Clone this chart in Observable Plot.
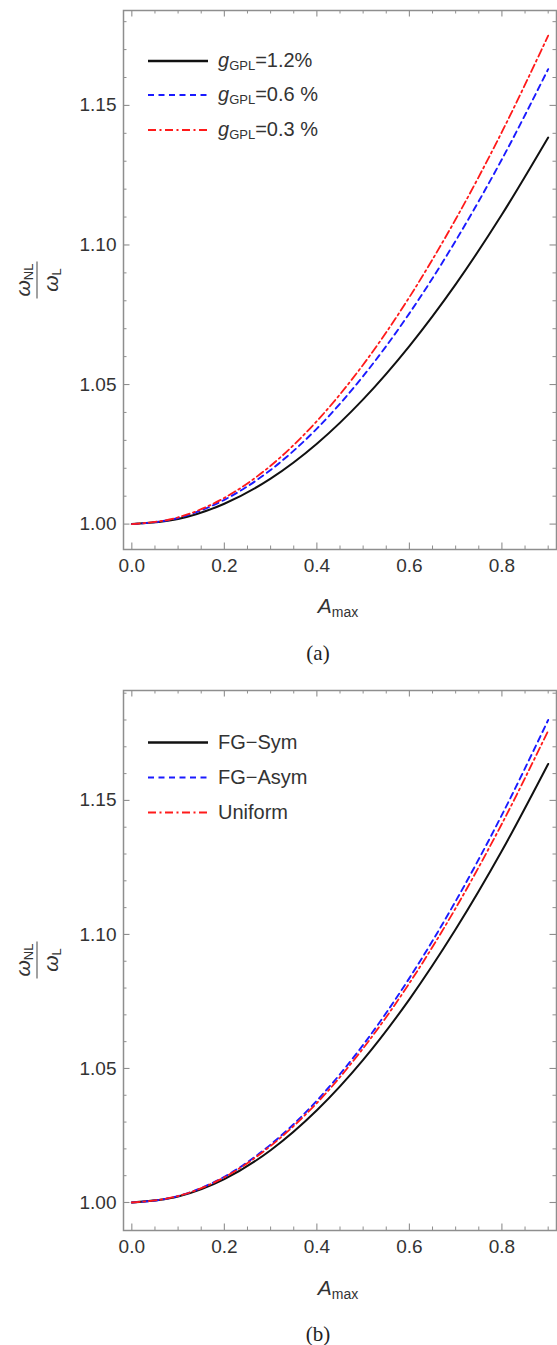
<!DOCTYPE html>
<html>
<head>
<meta charset="utf-8">
<script src="https://cdn.jsdelivr.net/npm/d3@7"></script>
<script src="https://cdn.jsdelivr.net/npm/@observablehq/plot@0.6"></script>
<style>
  html, body { margin: 0; padding: 0; background: #fff; }
  #page { position: relative; width: 557px; height: 1345px; overflow: hidden; font-family: "Liberation Sans", Arial, sans-serif; color: #333; }
  .leg { position: absolute; display: flex; align-items: center; font-size: 20px; white-space: nowrap; transform: translateY(-50%); }
  .leg svg { margin-right: 10px; }
  .leg sub { font-size: 13px; vertical-align: -3px; }
  .ylab { position: absolute; transform: translate(-50%, -50%) rotate(-90deg); }
  .frac { display: inline-flex; flex-direction: column; align-items: center; font-size: 21px; line-height: 1.0; }
  .frac .num { border-bottom: 1.7px solid #444; padding: 0 2px 2px 2px; }
  .frac .den { padding-top: 2px; }
  .frac sub { font-size: 13px; vertical-align: -3px; }
  .xlab { position: absolute; transform: translate(-50%, -50%); font-size: 21px; white-space: nowrap; }
  .xlab sub { font-size: 14px; vertical-align: -4px; }
  .cap { position: absolute; transform: translate(-50%, -50%); font-family: "Liberation Serif", "Times New Roman", serif; font-size: 21px; color: #222; }
</style>
</head>
<body>
<div id="page"></div>
<script>
// ---------- data ----------
const A = [0, 0.1, 0.2, 0.3, 0.4, 0.5, 0.6, 0.7, 0.8, 0.9];
// panel (a)
const gpl12 = [1.0000, 1.0018, 1.0073, 1.0163, 1.0288, 1.0447, 1.0638, 1.0859, 1.1109, 1.1385];
const gpl06 = [1.0000, 1.0022, 1.0087, 1.0194, 1.0342, 1.0530, 1.0755, 1.1015, 1.1307, 1.1630];
const gpl03 = [1.0000, 1.0024, 1.0094, 1.0209, 1.0369, 1.0571, 1.0813, 1.1092, 1.1405, 1.1750];
// panel (b)
const fgSym   = [1.0000, 1.0022, 1.0087, 1.0195, 1.0344, 1.0532, 1.0758, 1.1019, 1.1312, 1.1636];
const fgAsym  = [1.0000, 1.0024, 1.0096, 1.0216, 1.0380, 1.0588, 1.0837, 1.1124, 1.1446, 1.1800];
const uniform = [1.0000, 1.0024, 1.0094, 1.0211, 1.0371, 1.0575, 1.0818, 1.1098, 1.1413, 1.1760];

const xTicks = [0, 0.2, 0.4, 0.6, 0.8];
const xMinorTicks = [0.05, 0.1, 0.15, 0.25, 0.3, 0.35, 0.45, 0.5, 0.55, 0.65, 0.7, 0.75, 0.85, 0.9];
const yTicks = [1.00, 1.05, 1.10, 1.15];
const yMinorA = [1.01, 1.02, 1.03, 1.04, 1.06, 1.07, 1.08, 1.09, 1.11, 1.12, 1.13, 1.14, 1.16, 1.17, 1.18];
const yMinorB = [1.01, 1.02, 1.03, 1.04, 1.06, 1.07, 1.08, 1.09, 1.11, 1.12, 1.13, 1.14, 1.16, 1.17, 1.18, 1.19];

const legendA = ["1.2%", "0.6 %", "0.3 %"];
const legendB = ["FG\u2212Sym", "FG\u2212Asym", "Uniform"];

// ---------- styles ----------
const colors = ["#111111", "#1a1aff", "#ff1a1a"];
const dashes = [null, "6,4.5", "8,3.5,2,3.5"];
const widths = [2.0, 1.9, 1.8];
const frameColor = "#8e8e8e";
const textColor = "#333333";

const page = document.getElementById("page");

function makePanel({top, series, yDomain, yMinor, plotH}) {
  const W = 557, mL = 123, mR = 1, mT = 10, mB = 36;
  const pw = W - mL - mR, ph = plotH;
  const rows = series.map(vals => A.map((a, i) => ({A: a, v: vals[i]})));
  const majLen = 6.5, minLen = 3.5;
  const svg = Plot.plot({
    width: W,
    height: mT + ph + mB,
    marginLeft: mL, marginRight: mR, marginTop: mT, marginBottom: mB,
    style: {fontFamily: "'Liberation Sans', Arial, sans-serif", background: "transparent", overflow: "visible"},
    x: {domain: [-0.018, 0.918], label: null},
    y: {domain: yDomain, label: null},
    marks: [
      Plot.tickX(xTicks, {x: d => d, stroke: frameColor, strokeWidth: 1.1, insetTop: ph - majLen}),
      Plot.tickX(xMinorTicks, {x: d => d, stroke: frameColor, strokeWidth: 1, insetTop: ph - minLen}),
      Plot.tickX(xTicks, {x: d => d, stroke: frameColor, strokeWidth: 1.1, insetBottom: ph - majLen}),
      Plot.tickX(xMinorTicks, {x: d => d, stroke: frameColor, strokeWidth: 1, insetBottom: ph - minLen}),
      Plot.tickY(yTicks, {y: d => d, stroke: frameColor, strokeWidth: 1.1, insetRight: pw - majLen}),
      Plot.tickY(yMinor, {y: d => d, stroke: frameColor, strokeWidth: 1, insetRight: pw - minLen}),
      Plot.tickY(yTicks, {y: d => d, stroke: frameColor, strokeWidth: 1.1, insetLeft: pw - majLen}),
      Plot.tickY(yMinor, {y: d => d, stroke: frameColor, strokeWidth: 1, insetLeft: pw - minLen}),
      Plot.frame({stroke: frameColor, strokeWidth: 1.5}),
      Plot.axisX(xTicks, {tickSize: 0, tickPadding: 9, tickFormat: d => d.toFixed(1), fontSize: 19, fill: textColor, label: null}),
      Plot.axisY(yTicks, {tickSize: 0, tickPadding: 7, tickFormat: d => d.toFixed(2), fontSize: 19, fill: textColor, label: null}),
      ...rows.map((r, k) => Plot.line(r, {
        x: "A", y: "v", curve: "monotone-x",
        stroke: colors[k], strokeWidth: widths[k],
        strokeDasharray: dashes[k] || undefined
      }))
    ]
  });
  svg.style.position = "absolute";
  svg.style.left = "0px";
  svg.style.top = top + "px";
  page.appendChild(svg);
}

// panel (a): frame y 10..549
makePanel({top: 0, series: [gpl12, gpl06, gpl03], yDomain: [0.9909, 1.1840], yMinor: yMinorA, plotH: 539});
// panel (b): frame y 690..1230
makePanel({top: 680, series: [fgSym, fgAsym, uniform], yDomain: [0.98955, 1.1910], yMinor: yMinorB, plotH: 540});

function sample(k) {
  const d = dashes[k] ? ` stroke-dasharray="${dashes[k]}"` : "";
  return `<svg width="60" height="8"><line x1="0" y1="4" x2="60" y2="4" stroke="${colors[k]}" stroke-width="${widths[k] + 0.3}"${d}/></svg>`;
}
function addLegend(rowsY, labels, isG) {
  rowsY.forEach((y, k) => {
    const div = document.createElement("div");
    div.className = "leg";
    div.style.left = "148px";
    div.style.top = y + "px";
    const txt = isG ? `<i>g</i><sub>GPL</sub>=${labels[k]}` : labels[k];
    div.innerHTML = sample(k) + `<span>${txt}</span>`;
    page.appendChild(div);
  });
}
addLegend([61, 95, 130], legendA, true);
addLegend([742, 777, 812], legendB, false);

function addHTML(cls, x, y, html) {
  const div = document.createElement("div");
  div.className = cls;
  div.style.left = x + "px";
  div.style.top = y + "px";
  div.innerHTML = html;
  page.appendChild(div);
}
const yLabel = `<div class="frac"><span class="num"><i>ω</i><sub>NL</sub></span><span class="den"><i>ω</i><sub>L</sub></span></div>`;
const xLabel = `<i>A</i><sub>max</sub>`;
addHTML("ylab", 37, 280, yLabel);
addHTML("ylab", 37, 960, yLabel);
addHTML("xlab", 338, 607, xLabel);
addHTML("xlab", 338, 1289, xLabel);
addHTML("cap", 318, 653, "(a)");
addHTML("cap", 318, 1334, "(b)");
</script>
</body>
</html>
